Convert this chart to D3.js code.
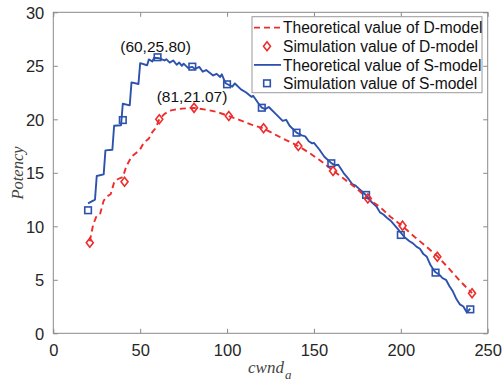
<!DOCTYPE html>
<html><head><meta charset="utf-8">
<script src="https://cdn.jsdelivr.net/npm/d3@7/dist/d3.min.js"></script>
<style>
html,body{margin:0;padding:0;background:#fff;}
svg{display:block;}
</style></head>
<body>
<svg id="chart" width="504" height="384"></svg>
<script>
// ---- data ----
const xTicks = [0, 50, 100, 150, 200, 250];
const yTicks = [0, 5, 10, 15, 20, 25, 30];

// Theoretical value of D-model (dashed red) : [cwnd_a, potency]
const dTheoryX = [21,23,25,27,29,31,33,35,37,40,42,45,48,50,52,55,57,59,61,64,67,70,74,81,88,94,101,107,114,121,128,134,141,147,154,161,168,174,181,188,194,201,208,214,221,228,234,241];
const dTheoryY = [8.6,10.2,11.0,11.2,12.4,12.8,13.0,14.1,14.4,14.6,15.6,16.5,16.9,17.2,17.8,18.2,18.8,19.2,20.0,20.5,20.8,20.9,21.0,21.07,20.9,20.7,20.3,19.95,19.5,19.15,18.55,18.05,17.5,16.9,16.1,15.2,14.35,13.6,12.6,11.8,10.9,10.0,9.0,8.2,7.2,6.0,4.9,3.75];

// Simulation value of D-model (red diamonds)
const dSimX = [21,41,61,81,101,121,141,161,181,201,221,241];
const dSimY = [8.47,14.17,20.0,21.07,20.31,19.16,17.5,15.17,12.6,10.06,7.16,3.74];

// Theoretical value of S-model (solid blue)
const sTheoryX = [20,24,25,29,30,34,35,39,40,44,45,49,50,54,55,57,58,61,64,65,67,69,71,72.5,74,75,77.5,80,81.5,84,86,88,92,94,96,97,99,100,103,104.5,108,111,114,115,118,120,122,124,128,132,134,136,140,143,145,147,149,150,153,156,160,162,164,167,170,172,174,176,178,180,183,186,188,190,192,194,197,200,202,205,207,209,211,213,215,217,219,220,222,224,226,228,230,232,234,236,238,240];
const sTheoryY = [12.15,12.5,14.7,14.85,17.1,17.15,19.4,19.45,21.45,21.3,23.45,23.3,25.25,25.05,25.6,25.4,25.75,25.7,25.5,25.62,25.3,25.5,25.1,25.3,25.0,25.2,24.8,24.9,24.7,24.9,24.45,24.6,24.1,24.25,23.95,24.2,23.4,23.3,23.05,23.35,22.8,22.5,22.1,22.2,21.5,21.1,20.95,21.15,20.5,19.85,19.95,19.4,18.75,18.5,18.4,17.95,17.75,17.8,17.2,16.5,15.9,15.7,15.75,15.0,14.4,13.95,13.8,13.5,13.2,12.9,12.3,11.85,11.3,11.1,10.8,10.55,10.0,9.4,9.0,8.6,8.4,8.1,7.9,7.4,7.15,6.4,5.9,5.7,5.5,5.15,5.0,4.4,3.9,3.2,2.7,2.5,1.95,2.3];

// Simulation value of S-model (blue squares)
const sSimX = [20,40,60,80,100,120,140,160,180,200,220,240];
const sSimY = [11.5,19.93,25.8,24.92,23.27,21.08,18.75,15.89,12.93,9.19,5.67,2.24];

const annotations = [{x: 60, y: 25.80, label: "(60,25.80)"}, {x: 81, y: 21.07, label: "(81,21.07)"}];
const legendLabels = ["Theoretical value of D-model","Simulation value of D-model","Theoretical value of S-model","Simulation value of S-model"];

// ---- styles ----
const RED = "#ee2c2c", BLUE = "#2d52ad";
const sans = "'Liberation Sans', Arial, sans-serif";
const serif = "'Liberation Serif', 'Times New Roman', serif";

const svg = d3.select("#chart");
const L = 53.3, R = 487.7, T = 12.3, B = 333.3;
const x = d3.scaleLinear().domain([0, 250]).range([L, R]);
const y = d3.scaleLinear().domain([0, 30]).range([B, T]);

const axisCol = "#8a8a8a", textCol = "#262626";

// frame
svg.append("rect").attr("x", L).attr("y", T).attr("width", R - L).attr("height", B - T)
  .attr("fill", "none").attr("stroke", axisCol).attr("stroke-width", 1);

// axes
const tl = 4.5;
const gx = svg.append("g").attr("transform", `translate(0,${B})`)
  .call(d3.axisBottom(x).tickValues(xTicks).tickSize(-tl).tickPadding(11).tickFormat(d3.format("d")));
const gxTop = svg.append("g").attr("transform", `translate(0,${T})`)
  .call(d3.axisTop(x).tickValues(xTicks).tickSize(-tl).tickFormat(""));
const gy = svg.append("g").attr("transform", `translate(${L},0)`)
  .call(d3.axisLeft(y).tickValues(yTicks).tickSize(-tl).tickPadding(9).tickFormat(d3.format("d")));
const gyR = svg.append("g").attr("transform", `translate(${R},0)`)
  .call(d3.axisRight(y).tickValues(yTicks).tickSize(-tl).tickFormat(""));
[gx, gxTop, gy, gyR].forEach(g => {
  g.select(".domain").remove();
  g.selectAll(".tick line").attr("stroke", axisCol);
  g.selectAll("text").attr("fill", textCol).style("font-family", sans).style("font-size", "16.5px");
});
gy.selectAll("text").attr("dy", "0.36em");

// axis labels
svg.append("text").attr("transform", `translate(23,173) rotate(-90)`)
  .attr("text-anchor", "middle").style("font-family", serif).style("font-style", "italic")
  .style("font-size", "16.5px").attr("fill", "#444").text("Potency");
const xl = svg.append("text").attr("x", 248).attr("y", 373)
  .style("font-family", serif).style("font-style", "italic").style("font-size", "17px").attr("fill", "#444");
xl.append("tspan").text("cwnd");
xl.append("tspan").attr("dx", 1).attr("dy", 6).style("font-size", "13px").text("a");

// lines
const line = d3.line().x(d => x(d[0])).y(d => y(d[1]));
const dTheory = dTheoryX.map((v, i) => [v, dTheoryY[i]]);
const sTheory = sTheoryX.map((v, i) => [v, sTheoryY[i]]);
svg.append("path").datum(sTheory).attr("d", line).attr("fill", "none")
  .attr("stroke", BLUE).attr("stroke-width", 1.9).attr("stroke-linejoin", "round");
svg.append("path").datum(dTheory).attr("d", line).attr("fill", "none")
  .attr("stroke", RED).attr("stroke-width", 1.9).attr("stroke-dasharray", "6,4");

// markers
function diamond(g, cx, cy) {
  g.append("path").attr("d", `M${cx},${cy-4.5}L${cx+3.5},${cy}L${cx},${cy+4.5}L${cx-3.5},${cy}Z`)
    .attr("fill", "none").attr("stroke", RED).attr("stroke-width", 1.6);
}
function square(g, cx, cy) {
  g.append("rect").attr("x", cx - 3.3).attr("y", cy - 3.3).attr("width", 6.6).attr("height", 6.6)
    .attr("fill", "none").attr("stroke", BLUE).attr("stroke-width", 1.6);
}
const mk = svg.append("g");
sSimX.forEach((v, i) => square(mk, x(v), y(sSimY[i])));
dSimX.forEach((v, i) => diamond(mk, x(v), y(dSimY[i])));

// annotations
annotations.forEach(a => {
  svg.append("text").attr("x", x(a.x) - 2).attr("y", y(a.y) - 5.5).attr("text-anchor", "middle")
    .style("font-family", sans).style("font-size", "15.5px").attr("fill", "#111").text(a.label);
});

// legend
const lg = svg.append("g");
lg.append("rect").attr("x", 252).attr("y", 16.7).attr("width", 230).attr("height", 76)
  .attr("fill", "#fff").attr("stroke", "#9a9a9a").attr("stroke-width", 1);
const rowsY = [27.7, 46.3, 64.9, 83.3];
legendLabels.forEach((lab, i) => {
  const ry = rowsY[i];
  if (i === 0) lg.append("line").attr("x1", 254).attr("x2", 281).attr("y1", ry).attr("y2", ry)
    .attr("stroke", RED).attr("stroke-width", 1.8).attr("stroke-dasharray", "6,4");
  if (i === 1) diamond(lg, 267, ry);
  if (i === 2) lg.append("line").attr("x1", 254).attr("x2", 281).attr("y1", ry).attr("y2", ry)
    .attr("stroke", BLUE).attr("stroke-width", 1.8);
  if (i === 3) square(lg, 267, ry);
  lg.append("text").attr("x", 283).attr("y", ry).attr("dy", "0.36em")
    .style("font-family", sans).style("font-size", "15.6px").attr("fill", "#111").text(lab);
});
</script>
</body></html>
